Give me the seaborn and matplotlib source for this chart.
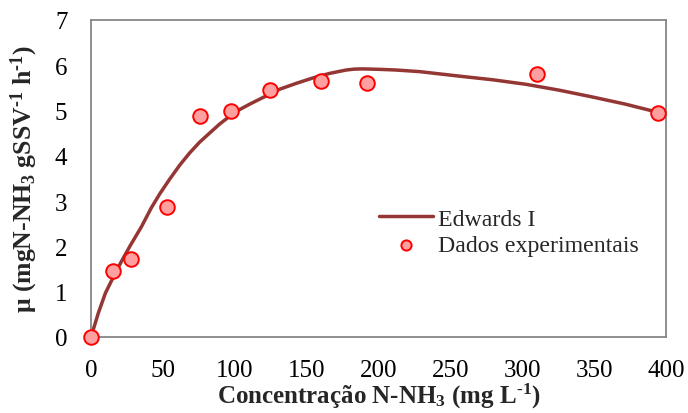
import matplotlib
matplotlib.use("Agg")
import matplotlib.pyplot as plt
import seaborn as sns
import pandas as pd

# Experimental data: ammonia concentration (mg/L) vs specific rate
conc_exp = [0, 15.5, 27.6, 53.0, 75.5, 97.2, 124.5, 160, 192, 310, 394.5]
mu_exp = [0, 1.46, 1.72, 2.87, 4.89, 4.98, 5.45, 5.65, 5.60, 5.81, 4.94]

# Edwards I model curve
conc_model = [0, 5, 10, 15.8, 21, 27.5, 35, 41.9, 48, 54.6, 61.6, 68.5, 75.5, 82.4,
              89.4, 96.3, 103.3, 110.3, 117.2, 124.2, 131.1, 142.7, 154.3, 165.9,
              172, 177.5, 183, 189.1, 195, 200.7, 212.3, 228.5, 256.3, 279.4,
              302.6, 325.7, 348.8, 372, 394.5]
mu_model = [0, 0.52, 0.97, 1.34, 1.66, 2.03, 2.43, 2.85, 3.17, 3.48, 3.79, 4.06,
            4.30, 4.50, 4.70, 4.87, 5.02, 5.14, 5.25, 5.36, 5.47, 5.60, 5.72,
            5.82, 5.86, 5.895, 5.915, 5.92, 5.915, 5.91, 5.895, 5.86, 5.76,
            5.68, 5.58, 5.45, 5.30, 5.14, 4.96]

x_ticks = [0, 50, 100, 150, 200, 250, 300, 350, 400]
y_ticks = [0, 1, 2, 3, 4, 5, 6, 7]

sns.set_theme(style="white")
plt.rcParams["font.family"] = ["Liberation Serif", "DejaVu Serif"]
plt.rcParams["mathtext.fontset"] = "custom"
plt.rcParams["mathtext.rm"] = "Liberation Serif"
plt.rcParams["mathtext.bf"] = "Liberation Serif:bold"
plt.rcParams["mathtext.it"] = "Liberation Serif:italic"

df_model = pd.DataFrame({"x": conc_model, "y": mu_model})
df_exp = pd.DataFrame({"x": conc_exp, "y": mu_exp})

fig = plt.figure(figsize=(6.88, 4.14), dpi=100)
ax = fig.add_axes([0.1323, 0.1836, 0.8357, 0.7657])

sns.lineplot(data=df_model, x="x", y="y", ax=ax, color="#943634",
             linewidth=2.5, label="Edwards I", sort=False)
sns.scatterplot(data=df_exp, x="x", y="y", ax=ax, s=110, color="#FFA0A0",
                edgecolor="#FF0000", linewidth=1.4, label="Dados experimentais",
                zorder=5, clip_on=False)

ax.set_xlim(0, 400)
ax.set_ylim(0, 7)
ax.set_xticks(x_ticks)
ax.set_yticks(y_ticks)
ax.tick_params(axis="both", direction="in", length=5, width=1.2,
               color="#868686", labelsize=18, labelcolor="black")
ax.tick_params(axis="x", pad=16)
ax.tick_params(axis="y", pad=17)
for sp in ax.spines.values():
    sp.set_color("#868686")
    sp.set_linewidth(1.3)
    sp.set_visible(True)

ax.set_xlabel("Concentração N-NH$_\\mathbf{3}$ (mg L$^\\mathbf{\u20101}$)",
              fontsize=18, fontweight="bold", labelpad=0)
ax.set_ylabel("μ (mgN-NH$_\\mathbf{3}$ gSSV$^\\mathbf{\u20101}$ h$^\\mathbf{\u20101}$)",
              fontsize=18.5, fontweight="bold", labelpad=11)

leg = ax.legend(loc="center left", bbox_to_anchor=(0.5, 0.331), frameon=False,
                fontsize=17.2, handlelength=2.3, handletextpad=0.17,
                labelspacing=0.2, borderpad=0, borderaxespad=0, markerscale=0.7)

fig.savefig("out.png", dpi=100)
